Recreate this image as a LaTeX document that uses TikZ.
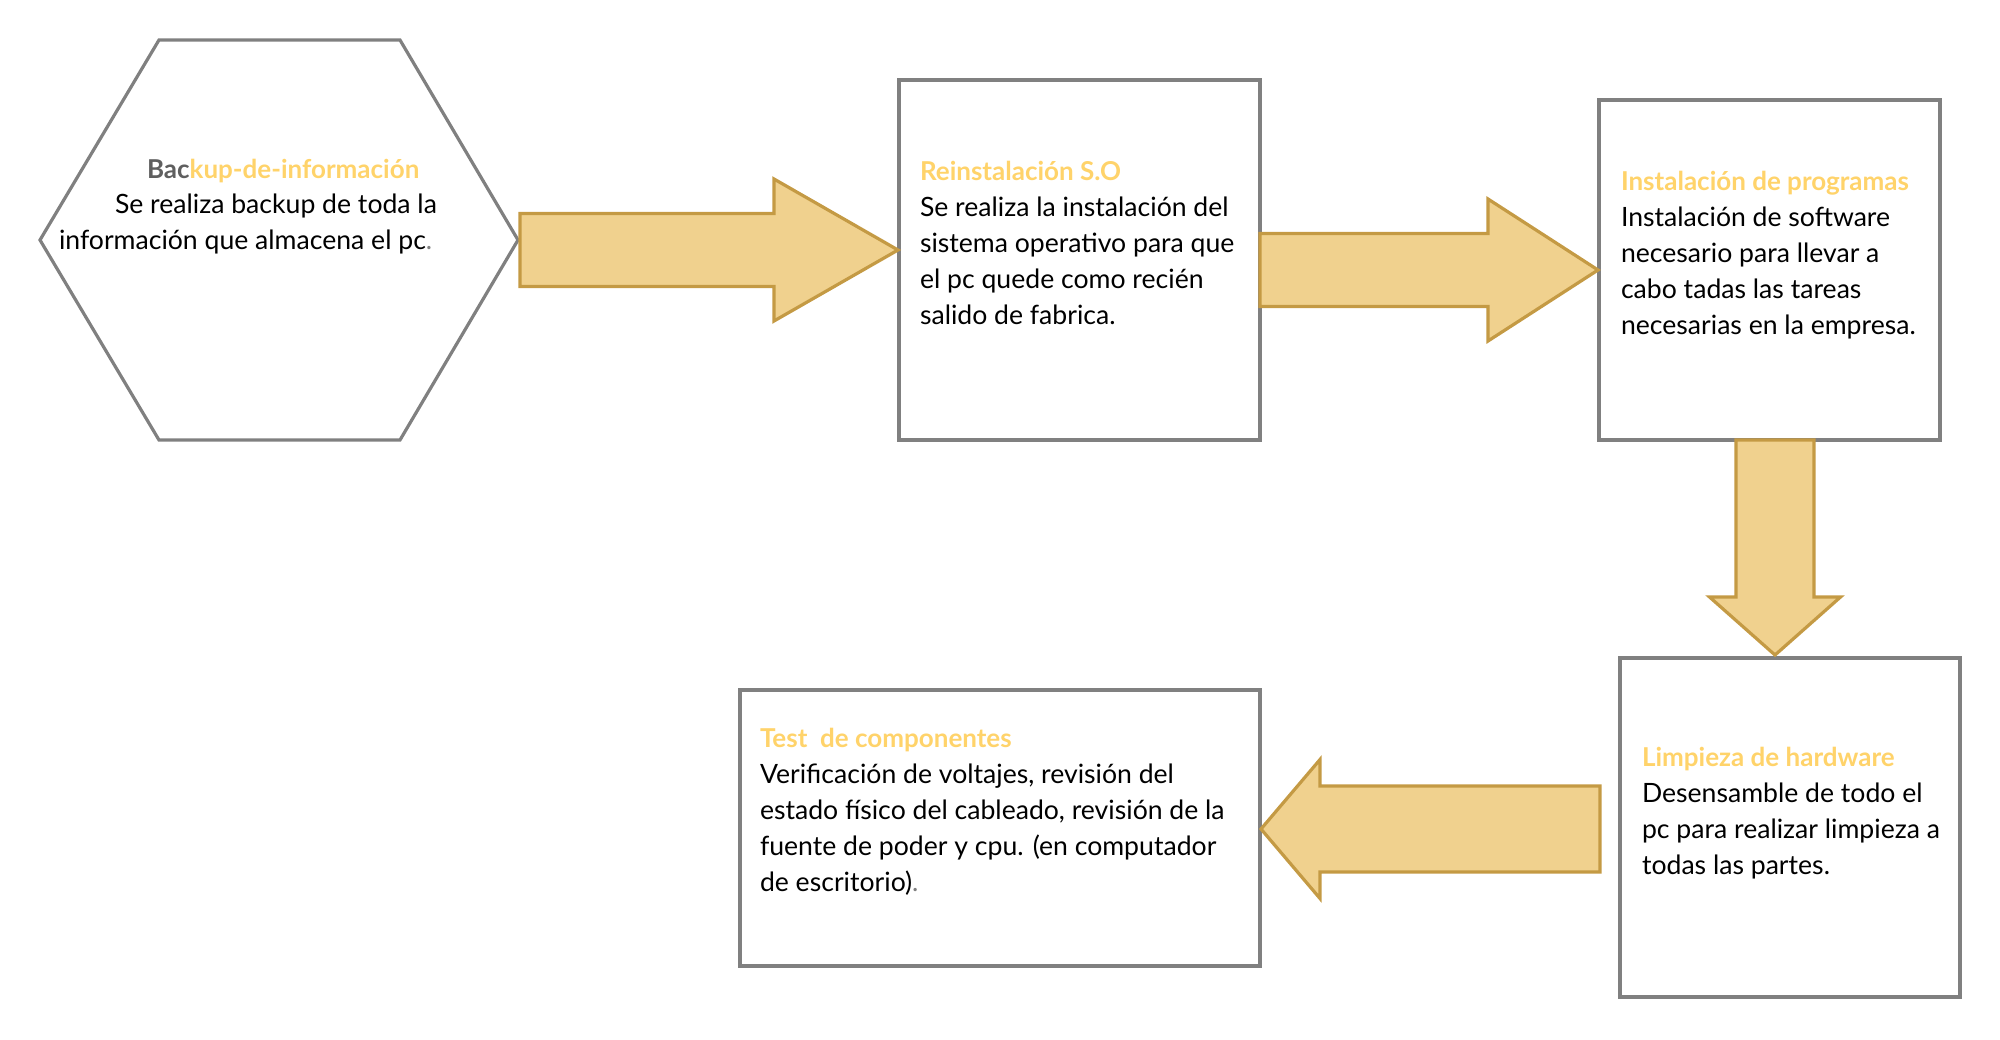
\documentclass[tikz,border=0pt]{standalone}
\usepackage{fontspec}
\setmainfont{Lato}
\usetikzlibrary{calc}
\definecolor{ttl}{HTML}{FFD36A}
\definecolor{boxgray}{HTML}{808080}
\definecolor{afill}{HTML}{F0D18E}
\definecolor{adraw}{HTML}{C49A44}
\definecolor{bacgray}{HTML}{5F5F5F}
\newcommand{\ttlfont}{\fontsize{13pt}{18pt}\selectfont\bfseries}
\tikzset{
  boxst/.style={draw=boxgray, line width=1.7pt, fill=white, inner sep=0pt, outer sep=0pt},
  hexst/.style={draw=boxgray, line width=1.6pt, line join=miter},
  barrow/.style={draw=adraw, fill=afill, line width=1.6pt, line join=miter},
  blockarrow/.style n args={3}{to path={
    ($(\tikztostart)!#1!90:(\tikztotarget)$)
    -- ($(\tikztotarget)!#3!(\tikztostart)!#1!90:(\tikztotarget)$)
    -- ($(\tikztotarget)!#3!(\tikztostart)!#2!90:(\tikztotarget)$)
    -- (\tikztotarget)
    -- ($(\tikztotarget)!#3!(\tikztostart)!#2!-90:(\tikztotarget)$)
    -- ($(\tikztotarget)!#3!(\tikztostart)!#1!-90:(\tikztotarget)$)
    -- ($(\tikztostart)!#1!-90:(\tikztotarget)$) -- cycle}},
  txt/.style={anchor=base west, inner sep=0pt, outer sep=0pt, align=left,
    font=\fontsize{13.3pt}{18pt}\selectfont, text=black}
}
\begin{document}
\begin{tikzpicture}[x=0.5pt, y=-0.5pt]
\useasboundingbox (0,0) rectangle (2000,1039);

% hexagon
\draw[hexst] (40,240) -- (159,40) -- (400,40) -- (518,240) -- (400,440) -- (159,440) -- cycle;
\coordinate (hex) at (279,240);
\node[txt] (hext) at (147,178) {\ttlfont{\color{bacgray}Bac}{\color{ttl}kup-de-información}};
\node[txt] (hexl1) at (115,213) {Se realiza backup de toda la};
\node[txt] (hexl2) at (59,249) {información que almacena el pc{\color{boxgray}.}};

% boxes
\node[boxst, minimum width=180.5pt, minimum height=180pt] (b2) at (1079.5,260) {};
\node[boxst, minimum width=170.5pt, minimum height=170pt] (b3) at (1769.5,270) {};
\node[boxst, minimum width=170pt, minimum height=169.5pt] (b4) at (1790,827.5) {};
\node[boxst, minimum width=260pt, minimum height=138pt] (b5) at (1000,828) {};

% arrows
\coordinate (a1s) at (520,250);  \coordinate (a1t) at (898,250);
\coordinate (a2s) at (1260,270); \coordinate (a2t) at (1598,270);
\coordinate (a3s) at (1775,440); \coordinate (a3t) at (1775,655);
\coordinate (a4s) at (1600,829); \coordinate (a4t) at (1261,829);
\draw[barrow] (a1s) to[blockarrow={18.25pt}{35.5pt}{62pt}] (a1t);
\draw[barrow] (a2s) to[blockarrow={18.25pt}{35.5pt}{55pt}] (a2t);
\draw[barrow] (a3s) to[blockarrow={19.5pt}{32.75pt}{29pt}] (a3t);
\draw[barrow] (a4s) to[blockarrow={21.5pt}{34.75pt}{29.5pt}] (a4t);

% texts (base anchor = baseline of the last line)
\node[txt] (t2) at (920,324) {{\ttlfont\color{ttl}Reinstalación S.O}\\Se realiza la instalación del\\sistema operativo para que\\el pc quede como recién\\salido de fabrica.};
\node[txt] (t3) at (1621,334) {{\ttlfont\color{ttl}Instalación de programas}\\Instalación de software\\necesario para llevar a\\cabo tadas las tareas\\necesarias en la empresa.};
\node[txt] (t4) at (1642,874) {{\ttlfont\color{ttl}Limpieza de hardware}\\Desensamble de todo el\\pc para realizar limpieza a\\todas las partes.};
\node[txt] (t5) at (760,891) {{\ttlfont\color{ttl}Test\ \ de componentes}\\Verificación de voltajes, revisión del\\estado físico del cableado, revisión de la\\fuente de poder y cpu. (en computador\\de escritorio){\color{boxgray}.}};
\end{tikzpicture}
\end{document}
